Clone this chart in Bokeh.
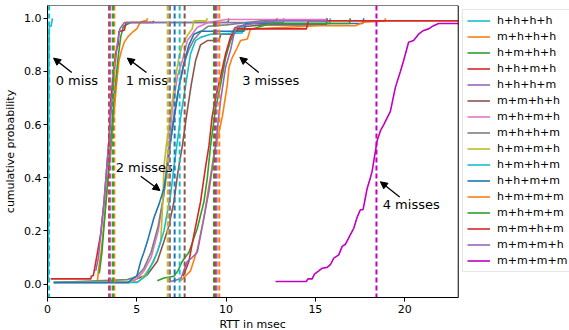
from bokeh.plotting import figure
from bokeh.models import (Range1d, FixedTicker, Span, Legend, LegendItem, Arrow, NormalHead,
                          PrintfTickFormatter, BoxAnnotation, Title)
from bokeh.embed import file_html
from bokeh.resources import INLINE
from bokeh.core.properties import value

FONT = "DejaVu Sans"

labels = ["h+h+h+h", "m+h+h+h", "h+m+h+h", "h+h+m+h", "h+h+h+m", "m+m+h+h",
          "m+h+m+h", "m+h+h+m", "h+m+m+h", "h+m+h+m", "h+h+m+m", "h+m+m+m",
          "m+h+m+m", "m+m+h+m", "m+m+m+h", "m+m+m+m"]
colors = ["#17becf", "#ff7f0e", "#2ca02c", "#d62728", "#9467bd", "#8c564b",
          "#e377c2", "#7f7f7f", "#bcbd22", "#17becf", "#1f77b4", "#ff7f0e",
          "#2ca02c", "#d62728", "#9467bd", "#c000c0"]
# dashed reference lines (msec), one per series
vline_x = [0.09, 3.74, 3.67, 3.45, 3.52, 7.68, 6.80, 6.86, 6.73, 7.40, 7.12,
           9.62, 9.32, 9.40, 9.47, 18.42]
x_max = 23.0

# 0 miss
x_hhhh = [0.03, 0.05, 0.06, 0.07, 0.08, 0.09, 0.12, 0.2, 0.25, 0.28]
y_hhhh = [0.005, 0.1, 0.4, 0.7, 0.9, 0.96, 0.97, 0.97, 0.99, 1.0]
# 1 miss
x_mhhh = [2.8, 2.85, 3.0, 3.2, 3.4, 3.55, 3.7, 3.85, 4.0, 4.15, 4.3, 4.5, 4.8, 5.0, 5.2, 5.4, 5.55, 5.6]
y_mhhh = [0.013, 0.05, 0.12, 0.25, 0.4, 0.5, 0.62, 0.74, 0.84, 0.88, 0.91, 0.93, 0.95, 0.96, 0.985, 0.99, 0.99, 1.0]
x_hmhh = [2.9, 3.05, 3.2, 3.35, 3.5, 3.65, 3.8, 3.95, 4.1, 4.25, 4.66, 10.1, 10.16]
y_hmhh = [0.04, 0.12, 0.25, 0.37, 0.5, 0.63, 0.75, 0.85, 0.93, 0.97, 0.984, 0.984, 1.0]
x_hhmh = [0.18, 2.43, 2.45, 2.57, 2.8, 2.98, 3.17, 3.32, 3.45, 3.54, 3.7, 3.82, 3.95, 4.0, 4.3, 4.4, 5.9, 5.95]
y_hhmh = [0.02, 0.02, 0.03, 0.033, 0.12, 0.19, 0.31, 0.44, 0.55, 0.69, 0.8, 0.87, 0.9, 0.95, 0.955, 0.984, 0.984, 0.99]
x_hhhm = [2.7, 2.85, 3.0, 3.15, 3.3, 3.45, 3.6, 3.75, 3.9, 4.05, 4.3, 13.2, 13.23]
y_hhhm = [0.05, 0.1, 0.2, 0.3, 0.42, 0.55, 0.68, 0.8, 0.9, 0.96, 0.984, 0.984, 1.0]
# 2 misses
x_mmhh = [0.35, 4.6, 5.0, 5.59, 6.15, 6.52, 6.8, 7.08, 7.3, 7.55, 7.8, 8.05, 8.29, 8.57, 8.95, 9.6, 9.7, 10.3, 10.5, 12.0, 15.6, 15.67]
y_mmhh = [0.006, 0.006, 0.02, 0.035, 0.086, 0.16, 0.22, 0.31, 0.42, 0.52, 0.64, 0.75, 0.84, 0.9, 0.916, 0.916, 0.94, 0.94, 0.965, 0.975, 0.975, 1.0]
x_mhmh = [0.35, 4.6, 5.0, 5.4, 5.8, 6.2, 6.5, 6.75, 7.0, 7.27, 7.55, 7.83, 8.1, 8.39, 9.04, 10.0, 15.6, 15.66]
y_mhmh = [0.006, 0.006, 0.02, 0.05, 0.1, 0.2, 0.33, 0.5, 0.66, 0.78, 0.84, 0.916, 0.94, 0.966, 0.985, 0.995, 0.995, 1.0]
x_mhhm = [0.35, 4.47, 4.75, 5.0, 5.4, 5.8, 6.2, 6.5, 6.8, 7.0, 7.3, 7.6, 7.9, 8.2, 8.6, 9.0, 10.0, 12.0, 12.8, 12.86]
y_mhhm = [0.006, 0.017, 0.023, 0.03, 0.06, 0.12, 0.22, 0.33, 0.48, 0.6, 0.72, 0.82, 0.88, 0.92, 0.95, 0.97, 0.975, 0.99, 0.99, 1.0]
x_hmmh = [0.35, 5.12, 5.5, 5.96, 6.34, 6.45, 6.52, 6.65, 6.8, 6.99, 7.18, 7.36, 7.55, 7.83, 8.1, 8.2, 8.9, 8.95]
y_hmmh = [0.006, 0.01, 0.04, 0.086, 0.16, 0.3, 0.44, 0.52, 0.59, 0.69, 0.78, 0.853, 0.9, 0.935, 0.96, 0.99, 0.99, 1.0]
x_hmhm = [0.35, 5.0, 5.5, 5.8, 6.15, 6.52, 6.9, 7.08, 7.2, 7.46, 7.74, 8.01, 8.29, 8.57, 9.13, 10.9, 11.0, 15.8, 15.84]
y_hmhm = [0.006, 0.006, 0.03, 0.07, 0.12, 0.2, 0.34, 0.44, 0.5, 0.63, 0.75, 0.866, 0.916, 0.928, 0.94, 0.945, 0.98, 0.98, 1.0]
x_hhmm = [0.35, 4.5, 4.75, 5.0, 5.22, 5.4, 5.59, 5.96, 6.24, 6.52, 6.71, 6.8, 7.08, 7.36, 7.64, 7.92, 8.2, 8.57, 11.0, 11.1, 17.65, 17.71]
y_hhmm = [0.006, 0.006, 0.02, 0.03, 0.086, 0.12, 0.16, 0.25, 0.3, 0.36, 0.44, 0.5, 0.62, 0.74, 0.83, 0.9, 0.94, 0.951, 0.951, 0.98, 0.98, 1.0]
# 3 misses
x_hmmm = [7.46, 8.01, 8.39, 8.76, 9.04, 9.3, 9.5, 9.79, 10.07, 10.16, 10.35, 10.63, 10.81, 11.19, 11.37, 15.19, 17.24, 17.7, 18.9, 18.92]
y_hmmm = [0.013, 0.05, 0.13, 0.25, 0.37, 0.48, 0.54, 0.63, 0.75, 0.815, 0.853, 0.89, 0.916, 0.922, 0.96, 0.972, 0.972, 0.985, 0.99, 1.0]
x_mhmm = [6.15, 6.52, 7.08, 7.3, 7.55, 7.92, 8.39, 8.76, 8.95, 9.13, 9.41, 9.69, 9.97, 10.25, 10.53, 11.5, 12.49, 16.9, 16.96]
y_mhmm = [0.013, 0.023, 0.03, 0.05, 0.086, 0.12, 0.21, 0.31, 0.4, 0.52, 0.66, 0.75, 0.85, 0.916, 0.954, 0.96, 0.98, 0.98, 1.0]
x_mmhm = [7.6, 7.92, 8.2, 8.57, 8.85, 9.04, 9.22, 9.41, 9.69, 9.97, 10.25, 10.63, 14.5, 14.6, 24.0]
y_mmhm = [0.03, 0.086, 0.186, 0.31, 0.44, 0.52, 0.63, 0.7, 0.78, 0.866, 0.93, 0.96, 0.96, 0.99, 0.99]
x_mmmh = [6.9, 7.46, 7.83, 8.1, 8.39, 8.76, 9.04, 9.32, 9.41, 9.69, 9.97, 10.25, 10.44, 10.63, 11.56, 12.49, 15.6, 15.66]
y_mmmh = [0.01, 0.02, 0.086, 0.1, 0.12, 0.25, 0.35, 0.48, 0.52, 0.69, 0.815, 0.88, 0.94, 0.97, 0.98, 0.99, 0.99, 1.0]
# 4 misses
x_mmmm = [12.77, 14.5, 14.58, 14.82, 14.95, 15.19, 15.38, 15.66, 15.84, 16.03, 16.31, 16.5, 16.68, 16.96, 17.15,
          17.33, 17.52, 17.67, 17.8, 17.9, 18.08, 18.18, 18.3, 18.46, 18.64, 18.83, 19.2, 19.48, 19.76, 19.94,
          20.22, 20.5, 20.78, 21.06, 21.34, 21.62, 21.9, 24.5]
y_mmmm = [0.01, 0.01, 0.02, 0.02, 0.038, 0.05, 0.06, 0.063, 0.073, 0.098, 0.11, 0.142, 0.15, 0.186, 0.21,
          0.25, 0.28, 0.28, 0.325, 0.36, 0.40, 0.425, 0.475, 0.54, 0.576, 0.60, 0.65, 0.74, 0.80, 0.84,
          0.91, 0.916, 0.94, 0.954, 0.96, 0.972, 0.98, 0.98]

series_x = [x_hhhh, x_mhhh, x_hmhh, x_hhmh, x_hhhm, x_mmhh, x_mhmh, x_mhhm,
            x_hmmh, x_hmhm, x_hhmm, x_hmmm, x_mhmm, x_mmhm, x_mmmh, x_mmmm]
series_y = [y_hhhh, y_mhhh, y_hmhh, y_hhmh, y_hhhm, y_mmhh, y_mhmh, y_mhhm,
            y_hmmh, y_hmhm, y_hhmm, y_hmmm, y_mhmm, y_mmhm, y_mmmh, y_mmmm]

# annotations
ann_text = ["0 miss", "1 miss", "2 misses", "3 misses", "4 misses"]
ann_x = [0.46, 4.38, 3.82, 10.9, 18.77]
ann_y = [0.765, 0.765, 0.438, 0.765, 0.30]
arrow_x0 = [1.36, 5.54, 5.22, 11.83, 19.72]
arrow_y0 = [0.796, 0.796, 0.406, 0.796, 0.328]
arrow_x1 = [0.34, 4.47, 6.30, 10.77, 18.64]
arrow_y1 = [0.85, 0.85, 0.352, 0.853, 0.385]

# frame runs to the canvas edge; the axes box ends at x_max and the legend sits right of it
p = figure(width=569, height=330, x_range=Range1d(0, 29.23), y_range=Range1d(-0.0502, 1.0479),
           output_backend="svg", toolbar_location=None,
           min_border_left=47, min_border_right=0, min_border_top=5, min_border_bottom=33)
p.background_fill_color = "white"
p.border_fill_color = "white"
p.outline_line_color = None
p.xgrid.visible = False
p.ygrid.visible = False

for ax in (p.xaxis[0], p.yaxis[0]):
    ax.axis_line_color = "black"
    ax.major_tick_out = 4
    ax.major_tick_in = 0
    ax.minor_tick_line_color = None
    ax.major_label_text_font = FONT
    ax.major_label_text_font_size = "11px"
    ax.major_label_text_color = "black"
    ax.axis_label_text_font = FONT
    ax.axis_label_text_font_size = "11px"
    ax.axis_label_text_font_style = "normal"
    ax.axis_label_text_color = "black"

p.xaxis.major_label_standoff = 3
p.yaxis.major_label_standoff = 2
p.xaxis.bounds = (0, x_max)
p.xaxis.ticker = FixedTicker(ticks=[0, 5, 10, 15, 20])
p.yaxis.ticker = FixedTicker(ticks=[0.0, 0.2, 0.4, 0.6, 0.8, 1.0])
p.yaxis.formatter = PrintfTickFormatter(format="%.1f")
p.yaxis.axis_label = "cumulative probability"
p.yaxis.axis_label_standoff = 4

# x-axis label centred under the axes box (not the whole frame)
p.add_layout(Title(text="RTT in msec", align="left", offset=172, standoff=0,
                   text_font=FONT, text_font_size="11px", text_font_style="normal",
                   text_color="black"), "below")

items = []
for lab, col, xs, ys, vx in zip(labels, colors, series_x, series_y, vline_x):
    r = p.line(xs, ys, line_color=col, line_width=1.6)
    p.add_layout(Span(location=vx, dimension="height", line_color=col,
                      line_dash="5 3", line_width=2))
    items.append(LegendItem(label=lab, renderers=[r]))

p.text(x=ann_x, y=ann_y, text=ann_text, text_font=value(FONT), text_font_size="13px",
       text_baseline="middle", text_align="left", text_color="black")
for xs0, ys0, xs1, ys1 in zip(arrow_x0, arrow_y0, arrow_x1, arrow_y1):
    p.add_layout(Arrow(end=NormalHead(size=7, fill_color="black", line_color="black"),
                       x_start=xs0, y_start=ys0, x_end=xs1, y_end=ys1,
                       line_color="black", line_width=1.3))

# blank out everything beyond the axes box, then draw the box (spines)
p.add_layout(BoxAnnotation(left=x_max, fill_color="white", fill_alpha=1.0, line_color=None))
p.add_layout(BoxAnnotation(left=0, right=x_max, fill_alpha=0.0, line_color="black",
                           line_width=1, line_alpha=1.0))

legend = Legend(items=items, location=(415, 25))
legend.border_line_color = "#cccccc"
legend.border_line_width = 1
legend.background_fill_alpha = 0.8
legend.label_text_font = FONT
legend.label_text_font_size = "11px"
legend.label_text_color = "black"
legend.glyph_width = 23
legend.glyph_height = 13
legend.label_height = 13
legend.spacing = 3
legend.padding = 4
legend.label_standoff = 7
legend.margin = 0
p.add_layout(legend)

open("out.html", "w").write(file_html(p, INLINE))
